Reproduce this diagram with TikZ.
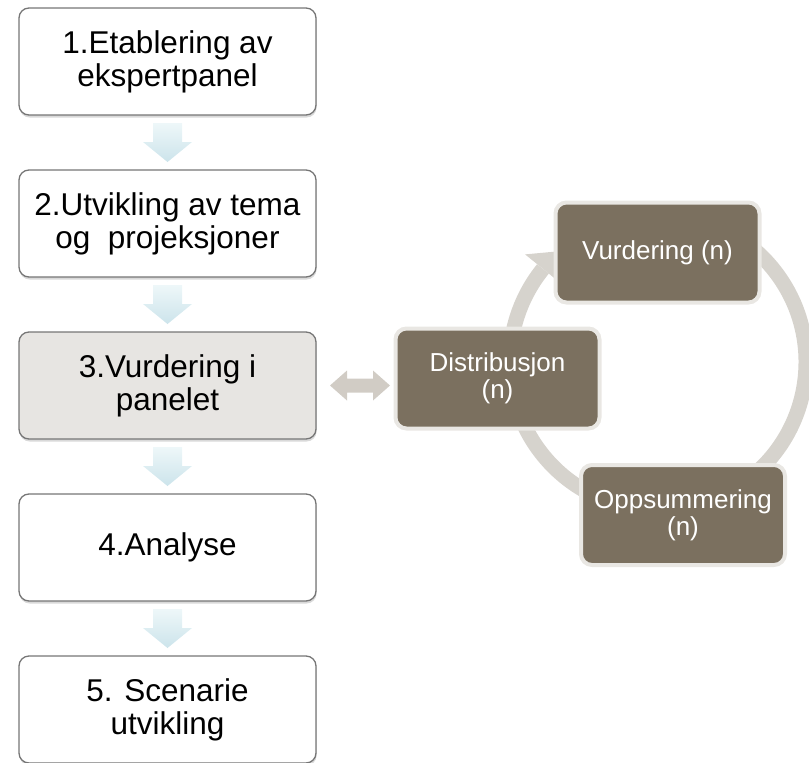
\documentclass[tikz,border=0pt]{standalone}
\usepackage{fontspec}
\setmainfont{Liberation Sans}
\usetikzlibrary{calc,shadows}
\definecolor{boxborder}{RGB}{118,118,118}
\definecolor{panelfill}{RGB}{231,229,226}
\definecolor{taupe}{RGB}{123,112,95}
\definecolor{taupeedge}{RGB}{233,231,227}
\definecolor{ringgray}{RGB}{214,211,205}
\definecolor{dblgray}{RGB}{209,204,197}
\definecolor{arrtop}{RGB}{238,247,249}
\definecolor{arrbot}{RGB}{204,228,235}
\newcommand\flowdown[2]{%
  \path[flowarrow] ($(#1.south)+(-14.5,8)$) -- ($(#1.south)+(14.5,8)$)
    -- ($(#2.north)+(14.5,-28)$) -- ($(#2.north)+(24.5,-28)$)
    -- ($(#2.north)+(0,-8)$) -- ($(#2.north)+(-24.5,-28)$)
    -- ($(#2.north)+(-14.5,-28)$) -- cycle;}
\begin{document}
\begin{tikzpicture}[x=1pt,y=-1pt,
  stepbox/.style={draw=boxborder, line width=1.3pt, rounded corners=10pt, fill=white,
    minimum width=297pt, minimum height=107pt, inner sep=0pt, outer sep=0pt,
    align=center, font=\fontsize{31.5}{33}\selectfont, text=black,
    drop shadow={shadow xshift=0.6pt, shadow yshift=-2.5pt, opacity=0.3}},
  cyclebox/.style={draw=taupeedge, line width=4pt, fill=taupe, rounded corners=11pt,
    minimum width=204pt, minimum height=100pt, inner sep=0pt, outer sep=0pt,
    align=center, text=white, font=\fontsize{26}{27}\selectfont},
  flowarrow/.style={top color=arrtop, bottom color=arrbot, draw=none},
  ringline/.style={draw=ringgray, line width=15pt},
  ringhead/.style={fill=ringgray, draw=none},
  dblarrow/.style={fill=dblgray, draw=none}
]
\useasboundingbox (0,0) rectangle (809,763);

% left column
\node[stepbox] (b1) at (167.5,61.5) {1.Etablering av\\ekspertpanel};
\node[stepbox] (b2) at (167.5,223.5) {2.Utvikling av tema\\og\ \ projeksjoner};
\node[stepbox, fill=panelfill] (b3) at (167.5,385.5) {3.Vurdering i\\panelet};
\node[stepbox] (b4) at (167.5,547.5) {4.Analyse};
\node[stepbox] (b5) at (167.5,709.5) {5. Scenarie\\utvikling};

\flowdown{b1}{b2}
\flowdown{b2}{b3}
\flowdown{b3}{b4}
\flowdown{b4}{b5}

% cycle ring
\coordinate (rc) at (658,362);
\draw[ringline] ($(rc)+(235:148)$) arc[start angle=235, end angle=579, radius=148];
\path[ringhead] ($(rc)+(219:171)$) -- ($(rc)+(228.5:148)$) -- ($(rc)+(219:125)$) -- cycle;

% cycle boxes
\node[cyclebox] (vur) at (657.5,252.5) {Vurdering (n)};
\node[cyclebox] (dist) at (497.5,378.5) {Distribusjon\\(n)};
\node[cyclebox] (opp) at (683,515) {Oppsummering\\(n)};

% double arrow between panel and distribution
\coordinate (dl) at ($(b3.east)+(14,0)$);
\coordinate (dr) at ($(b3.east -| dist.west)+(-5.5,0)$);
\path[dblarrow] (dl) -- ($(dl)+(17,-15)$) -- ($(dl)+(17,-7)$) -- ($(dr)+(-17,-7)$)
  -- ($(dr)+(-17,-15)$) -- (dr) -- ($(dr)+(-17,15)$) -- ($(dr)+(-17,7)$)
  -- ($(dl)+(17,7)$) -- ($(dl)+(17,15)$) -- cycle;
\end{tikzpicture}
\end{document}
